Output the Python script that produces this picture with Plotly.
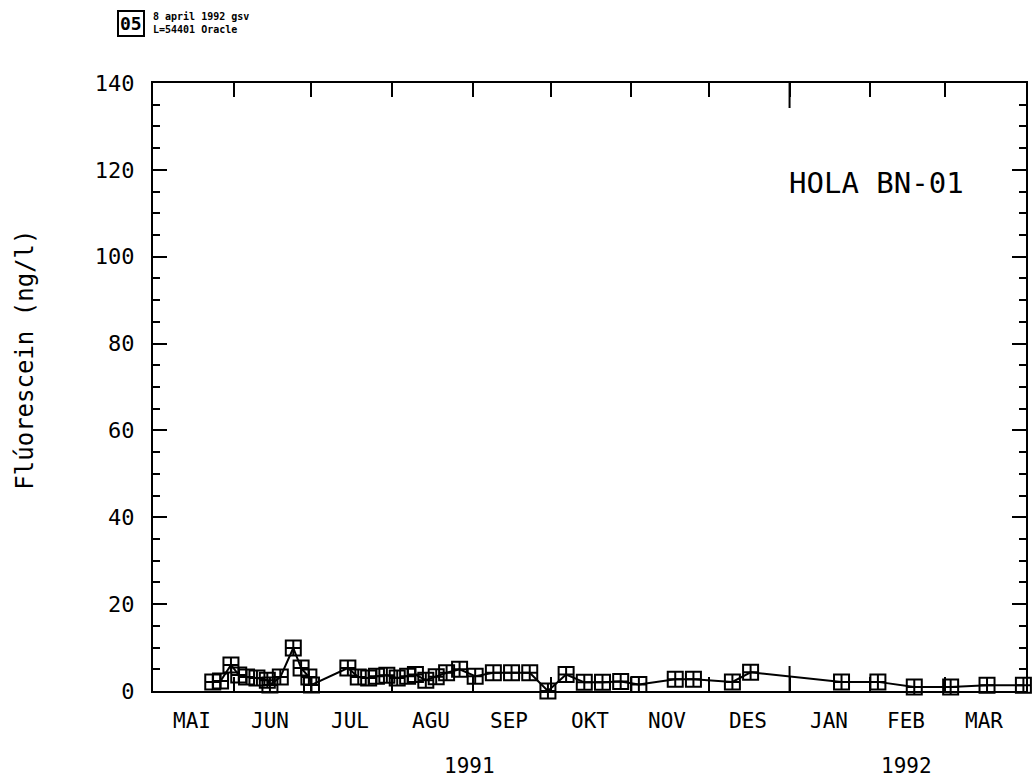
import plotly.graph_objects as go

# ---- data ----
sample_dates = [
    "1991-05-24", "1991-05-27", "1991-05-31", "1991-06-03", "1991-06-06", "1991-06-10",
    "1991-06-14", "1991-06-15", "1991-06-19", "1991-06-24", "1991-06-27", "1991-06-30",
    "1991-07-01",
    "1991-07-15", "1991-07-19", "1991-07-23", "1991-07-26", "1991-07-30", "1991-08-03",
    "1991-08-07", "1991-08-10", "1991-08-14", "1991-08-18", "1991-08-22", "1991-08-27",
    "1991-09-02", "1991-09-09", "1991-09-16", "1991-09-23", "1991-09-30", "1991-10-07",
    "1991-10-14", "1991-10-21", "1991-10-28", "1991-11-04", "1991-11-18", "1991-11-25",
    "1991-12-10", "1991-12-17",
    "1992-01-21", "1992-02-04", "1992-02-18", "1992-03-03", "1992-03-17", "1992-03-31",
]
fluorescein = [
    2.1, 2.3, 6.0, 3.7, 3.2, 3.0, 2.5, 1.4, 3.2, 9.9, 5.3, 3.2, 1.4,
    5.3, 3.2, 3.0, 3.4, 3.6, 3.0, 3.4, 3.8, 2.5, 3.3, 4.2, 5.0,
    3.4, 4.2, 4.2, 4.2, 0.0, 3.8, 2.0, 2.0, 2.2, 1.5, 2.7, 2.7, 2.1, 4.3,
    2.1, 2.1, 0.9, 0.9, 1.3, 1.3,
]
month_starts = [
    "1991-05-01", "1991-06-01", "1991-07-01", "1991-08-01", "1991-09-01", "1991-10-01",
    "1991-11-01", "1991-12-01", "1992-01-01", "1992-02-01", "1992-03-01", "1992-04-01",
]
month_labels = ["MAI", "JUN", "JUL", "AGU", "SEP", "OKT", "NOV", "DES", "JAN", "FEB", "MAR"]
month_mids = [
    "1991-05-16", "1991-06-15", "1991-07-16", "1991-08-16", "1991-09-15", "1991-10-16",
    "1991-11-15", "1991-12-16", "1992-01-16", "1992-02-15", "1992-03-16",
]
year_labels = ["1991", "1992"]
year_mids = ["1991-08-31", "1992-02-15"]
year_boundary = "1992-01-01"
y_ticks = [0, 20, 40, 60, 80, 100, 120, 140]

FONT = "DejaVu Sans Mono"

fig = go.Figure()
fig.add_trace(go.Scatter(
    x=sample_dates, y=fluorescein, mode="lines+markers",
    line=dict(color="black", width=2),
    marker=dict(symbol="square-cross-open", size=15, color="black", line=dict(width=2, color="black")),
    showlegend=False, cliponaxis=False,
))

annotations = []
for lab, d in zip(month_labels, month_mids):
    annotations.append(dict(x=d, xref="x", y=0, yref="paper", yanchor="middle",
                            yshift=-30, text=lab, showarrow=False,
                            font=dict(family=FONT, size=21, color="black")))
for lab, d in zip(year_labels, year_mids):
    annotations.append(dict(x=d, xref="x", y=0, yref="paper", yanchor="middle",
                            yshift=-75, text=lab, showarrow=False,
                            font=dict(family=FONT, size=21, color="black")))
annotations.append(dict(x=0, xref="paper", xanchor="center", xshift=-128,
                        y=0.545, yref="paper", yanchor="middle", textangle=-90,
                        text="Flúorescein (ng/l)", showarrow=False,
                        font=dict(family=FONT, size=24, color="black")))
annotations.append(dict(x=0.829, xref="paper", xanchor="center",
                        y=0.835, yref="paper", yanchor="middle",
                        text="HOLA BN-01", showarrow=False,
                        font=dict(family=FONT, size=29, color="black")))
annotations.append(dict(x=0, xref="paper", xanchor="left", xshift=-36,
                        y=1, yref="paper", yanchor="middle", yshift=60,
                        text="<b>05</b>", showarrow=False, bordercolor="black", borderwidth=2,
                        borderpad=1,
                        font=dict(family=FONT, size=18, color="black")))
annotations.append(dict(x=0, xref="paper", xanchor="left", xshift=-2,
                        y=1, yref="paper", yanchor="middle", yshift=60,
                        text="<b>8 april 1992 gsv</b><br><b>L=54401 Oracle</b>",
                        align="left", showarrow=False,
                        font=dict(family=FONT, size=10, color="black")))

shapes = [
    dict(type="line", xref="x", yref="paper", x0=year_boundary, x1=year_boundary,
         ysizemode="pixel", yanchor=0, y0=0, y1=25, line=dict(color="black", width=2)),
    dict(type="line", xref="x", yref="paper", x0=year_boundary, x1=year_boundary,
         ysizemode="pixel", yanchor=1, y0=0, y1=-25, line=dict(color="black", width=2)),
]

fig.update_layout(
    width=1033, height=782,
    margin=dict(l=153, r=5, t=83, b=91),
    paper_bgcolor="white", plot_bgcolor="white",
    font=dict(family=FONT, color="black"),
    annotations=annotations, shapes=shapes,
    xaxis=dict(
        type="date", range=[month_starts[0], month_starts[-1]],
        tickmode="array", tickvals=month_starts, ticktext=[""] * len(month_starts),
        ticks="inside", ticklen=14, tickwidth=2, tickcolor="black",
        showline=True, linewidth=2, linecolor="black", mirror="ticks",
        showgrid=False, zeroline=False,
    ),
    yaxis=dict(
        range=[0, 140], tickmode="array", tickvals=y_ticks,
        ticks="inside", ticklen=14, tickwidth=2, tickcolor="black",
        minor=dict(dtick=5, ticks="inside", ticklen=7, tickwidth=2, tickcolor="black", showgrid=False),
        showline=True, linewidth=2, linecolor="black", mirror="ticks",
        showgrid=False, zeroline=False,
        tickfont=dict(family=FONT, size=22, color="black"),
        ticklabelstandoff=12,
    ),
)

fig.write_html("out.html")
